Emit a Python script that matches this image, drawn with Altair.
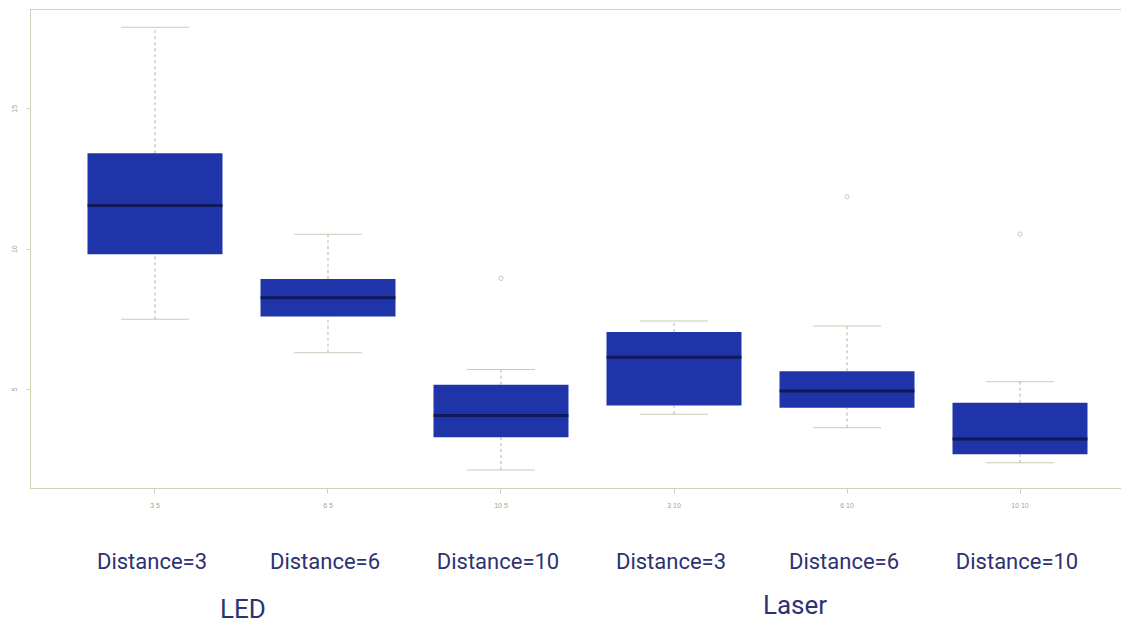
import altair as alt
import pandas as pd

# ---- data ----
categories = ["3 5", "6 5", "10 5", "3 10", "6 10", "10 10"]
lower_whisker = [7.48, 6.29, 2.11, 4.10, 3.62, 2.37]
q1 = [9.80, 7.58, 3.28, 4.41, 4.33, 2.67]
median = [11.54, 8.25, 4.05, 6.13, 4.93, 3.22]
q3 = [13.40, 8.92, 5.15, 7.03, 5.63, 4.51]
upper_whisker = [17.89, 10.51, 5.69, 7.42, 7.24, 5.26]

outlier_categories = ["10 5", "6 10", "10 10"]
outlier_values = [8.94, 11.85, 10.52]

distance_labels = ["Distance=3", "Distance=6", "Distance=10",
                   "Distance=3", "Distance=6", "Distance=10"]
group_names = ["LED", "Laser"]

y_ticks = [5, 10, 15]

# ---- tables ----
stats = pd.DataFrame({
    "cat": categories,
    "lo": lower_whisker,
    "q1": q1,
    "med": median,
    "q3": q3,
    "hi": upper_whisker,
    "dist": distance_labels,
})
outliers = pd.DataFrame({"cat": outlier_categories, "v": outlier_values})
groups_led = pd.DataFrame({"cat": [categories[0]], "g": [group_names[0]]})
groups_laser = pd.DataFrame({"cat": [categories[4]], "g": [group_names[1]]})

FRAME = "#d2d1b4"
WHISK = "#b4b49a"
BOX = "#2034aa"
MED = "#0a0e36"
NAVY = "#2d3272"
LABEL = "#a3a392"

xscale = alt.Scale(domain=categories, range=[0, 1115],
                   paddingInner=0.2, paddingOuter=0.3225)
x_axis = alt.Axis(title=None, labelFontSize=7, labelColor=LABEL,
                  tickColor=FRAME, tickSize=5, labelPadding=8,
                  domainColor=FRAME, labelFont="Liberation Sans",
                  labelAngle=0, grid=False)
X = alt.X("cat:N", sort=categories, scale=xscale, axis=x_axis)

yscale = alt.Scale(domain=[1.47, 18.54], nice=False, zero=False)
y_axis = alt.Axis(title=None, values=y_ticks, labelFontSize=7,
                  labelColor=LABEL, tickColor=FRAME, tickSize=4,
                  domainColor=FRAME, labelAngle=270, labelAlign="center",
                  labelBaseline="bottom", labelPadding=9, grid=False,
                  labelFont="Liberation Sans")

base = alt.Chart(stats)

whisk_low = base.mark_rule(color=WHISK, strokeDash=[3, 3], strokeWidth=1).encode(
    x=X, y=alt.Y("lo:Q", scale=yscale, axis=y_axis), y2="q1:Q")
whisk_high = base.mark_rule(color=WHISK, strokeDash=[3, 3], strokeWidth=1).encode(
    x=X, y=alt.Y("q3:Q", scale=yscale), y2="hi:Q")
cap_low = base.mark_tick(color=WHISK, size=68, thickness=1, orient="horizontal").encode(
    x=X, y=alt.Y("lo:Q", scale=yscale))
cap_high = base.mark_tick(color=WHISK, size=68, thickness=1, orient="horizontal").encode(
    x=X, y=alt.Y("hi:Q", scale=yscale))
box = base.mark_bar(color=BOX, size=135).encode(
    x=X, y=alt.Y("q1:Q", scale=yscale), y2="q3:Q")
med = base.mark_tick(color=MED, size=135, thickness=3, orient="horizontal").encode(
    x=X, y=alt.Y("med:Q", scale=yscale))
outl = alt.Chart(outliers).mark_point(color=WHISK, size=18, strokeWidth=1).encode(
    x=X, y=alt.Y("v:Q", scale=yscale))

dist_text = base.mark_text(font="Roboto", fontSize=22, color=NAVY,
                           baseline="middle", align="center", dx=-3).encode(
    x=X, y=alt.value(553), text="dist:N")
led_text = alt.Chart(groups_led).mark_text(font="Roboto", fontSize=26, color=NAVY,
                                           baseline="middle", align="center", dx=88).encode(
    x=X, y=alt.value(601), text="g:N")
laser_text = alt.Chart(groups_laser).mark_text(font="Roboto", fontSize=26, color=NAVY,
                                               baseline="middle", align="center", dx=-52).encode(
    x=X, y=alt.value(597), text="g:N")

chart = alt.layer(
    whisk_low, whisk_high, cap_low, cap_high, box, med, outl,
    dist_text, led_text, laser_text
).properties(
    width=1091, height=479,
    autosize=alt.AutoSizeParams(type="none"),
    padding={"left": 22, "top": 1, "right": 0, "bottom": 135},
    background="white",
).configure_view(stroke=FRAME, strokeWidth=1)

chart.save("out.html", embed_options={"renderer": "svg", "actions": False})
